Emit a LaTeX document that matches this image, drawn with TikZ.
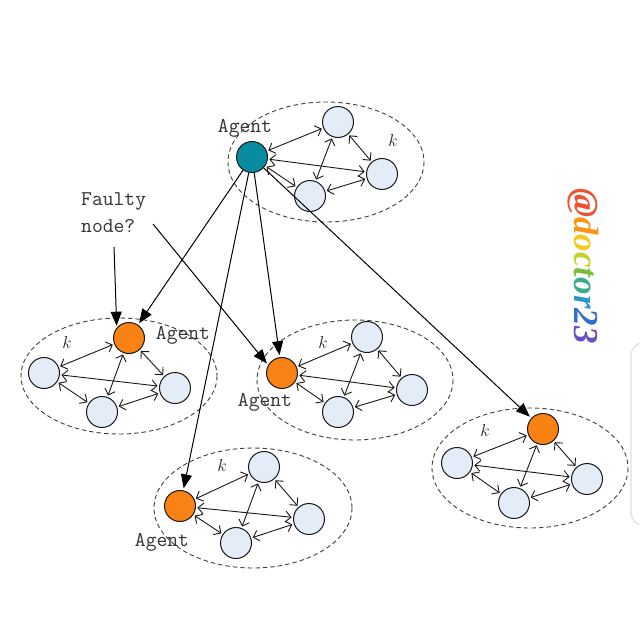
\documentclass[tikz,border=0pt]{standalone}
\usepackage{fontspec}
\newfontfamily\wmfont{Liberation Serif}
\usetikzlibrary{arrows.meta}
\definecolor{nfill}{RGB}{227,236,247}
\definecolor{agteal}{RGB}{10,140,160}
\definecolor{agorange}{RGB}{249,130,20}
\definecolor{wa}{RGB}{240,80,50}
\definecolor{wb}{RGB}{250,150,20}
\definecolor{wc}{RGB}{245,200,30}
\definecolor{wd}{RGB}{195,210,40}
\definecolor{we}{RGB}{120,190,60}
\definecolor{wf}{RGB}{60,170,140}
\definecolor{wg}{RGB}{40,150,205}
\definecolor{wh}{RGB}{50,110,205}
\definecolor{wi}{RGB}{105,80,190}
\begin{document}
\begin{tikzpicture}[x=1pt,y=-1pt,
  nd/.style={circle,draw=black!90,line width=1pt,minimum size=31pt,inner sep=0pt,fill=nfill},
  agt/.style={nd,fill=agteal},
  ago/.style={nd,fill=agorange},
  dbl/.style={{Straight Barb[length=5.5pt,width=11pt]}-{Straight Barb[length=5.5pt,width=11pt]},line width=0.9pt,draw=black!90,shorten <=1.5pt,shorten >=1.5pt},
  longarr/.style={-{Triangle[length=14pt,width=11pt]},line width=1pt,draw=black,shorten >=2pt},
  grp/.style={draw=black!75,dash pattern=on 4.5pt off 3pt,line width=0.9pt},
  lbl/.style={font=\fontsize{21}{27}\selectfont\ttfamily,text=black!80,inner sep=0pt},
  kl/.style={font=\fontsize{17}{19}\selectfont,text=black!85,inner sep=0pt}
]
\useasboundingbox (0,0) rectangle (640,640);
\fill[white] (0,0) rectangle (640,640);

% right panel edge
\draw[black!12,line width=1.2pt,rounded corners=12pt] (660,343) -- (631,343) -- (631,525) -- (660,525);

% groups
\draw[grp] (326,162) ellipse [x radius=98,y radius=60];
\draw[grp] (119,376) ellipse [x radius=98,y radius=58];
\draw[grp] (355,380) ellipse [x radius=98,y radius=60];
\draw[grp] (253,508) ellipse [x radius=99,y radius=60];
\draw[grp] (530,468) ellipse [x radius=98,y radius=60];

% cluster 1
\node[agt] (c1a) at (252,157) {};
\node[nd] (c1t) at (338,122) {};
\node[nd] (c1r) at (382,174) {};
\node[nd] (c1b) at (310,196) {};
% cluster 2
\node[ago] (c2a) at (129,338) {};
\node[nd] (c2l) at (44,373) {};
\node[nd] (c2r) at (175,388) {};
\node[nd] (c2b) at (102,412) {};
% cluster 3
\node[ago] (c3a) at (282,373) {};
\node[nd] (c3t) at (367,337) {};
\node[nd] (c3r) at (412,390) {};
\node[nd] (c3b) at (338,412) {};
% cluster 4
\node[ago] (c4a) at (180,506) {};
\node[nd] (c4t) at (264,467) {};
\node[nd] (c4r) at (309,519) {};
\node[nd] (c4b) at (236,543) {};
% cluster 5
\node[ago] (c5a) at (543,429) {};
\node[nd] (c5l) at (457,463) {};
\node[nd] (c5r) at (587,479) {};
\node[nd] (c5b) at (514,503) {};

% inner edges
\foreach \c/\p/\q in {1/t/r,2/l/r,3/t/r,4/t/r,5/l/r}{
  \draw[dbl] (c\c a) -- (c\c\p);
  \draw[dbl] (c\c a) -- (c\c\q);
  \draw[dbl] (c\c a) -- (c\c b);
  \draw[dbl] (c\c\p) -- (c\c\q);
  \draw[dbl] (c\c\p) -- (c\c b);
  \draw[dbl] (c\c b) -- (c\c\q);
}

% labels
\node[lbl] (l1) at (245,128) {Agent};
\node[lbl] (l2) at (183,335) {Agent};
\node[lbl] (l3) at (265,402) {Agent};
\node[lbl] (l4) at (162,542) {Agent};
\node[kl] (k1) at (393,140) {$k$};
\node[kl] (k2) at (67,342) {$k$};
\node[kl] (k3) at (323,342) {$k$};
\node[kl] (k4) at (222,465) {$k$};
\node[kl] (k5) at (485,430) {$k$};

\node[lbl,align=left,anchor=north west] (fn) at (81,192) {Faulty\\node?};
\coordinate (f1) at (114,247);
\coordinate (f2) at (153,224);
\draw[longarr] (f1) -- (c2a.140);
\draw[longarr] (f2) -- (c3a.150);

% long arrows
\draw[longarr] (c1a) -- (c2a);
\draw[longarr] (c1a) -- (c3a);
\draw[longarr] (c1a) -- (c4a);
\draw[longarr] (c1a) -- (c5a);

% watermark
\node[rotate=-90,inner sep=0pt] (wm) at (583,266) {\wmfont\bfseries\itshape\fontsize{35}{40}\selectfont
\textcolor{wa}{@}\textcolor{wb}{d}\textcolor{wc}{o}\textcolor{wd}{c}\textcolor{we}{t}\textcolor{wf}{o}\textcolor{wg}{r}\textcolor{wh}{2}\textcolor{wi}{3}};
\end{tikzpicture}
\end{document}
